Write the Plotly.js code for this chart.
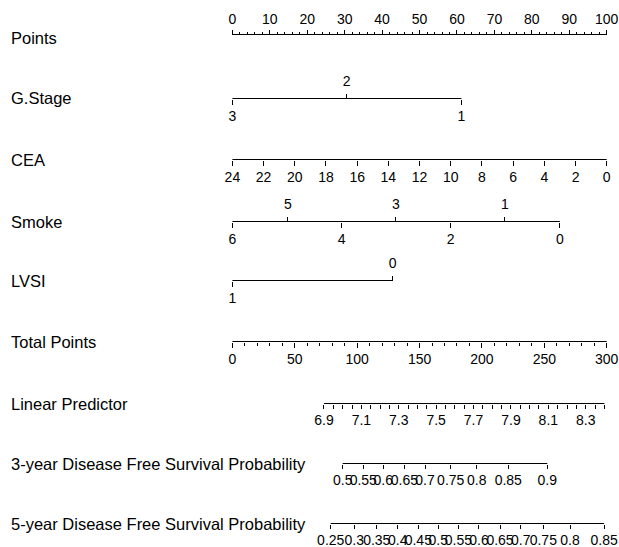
<!DOCTYPE html>
<html><head><meta charset="utf-8">
<script src="https://cdn.plot.ly/plotly-3.0.1.min.js"></script>
<style>html,body{margin:0;padding:0;background:#fff}#chart{width:619px;height:547px}</style>
</head><body><div id="chart"></div>
<script>
// ---------- data ----------
const rowNames = ["Points","G.Stage","CEA","Smoke","LVSI","Total Points","Linear Predictor",
  "3-year Disease Free Survival Probability","5-year Disease Free Survival Probability"];
const pointsTicks = [0,10,20,30,40,50,60,70,80,90,100];
const gstageLevels = ["3","2","1"];
const gstagePoints = [0,30.5,61.2];
const ceaLevels = ["24","22","20","18","16","14","12","10","8","6","4","2","0"];
const ceaPoints = [0,8.33,16.67,25,33.33,41.67,50,58.33,66.67,75,83.33,91.67,100];
const smokeLevels = ["6","5","4","3","2","1","0"];
const smokePoints = [0,14.8,29.2,43.7,58.3,72.8,87.5];
const lvsiLevels = ["1","0"];
const lvsiPoints = [0,42.8];
const totalTicks = [0,50,100,150,200,250,300];
const lpTicks = [6.9,7.1,7.3,7.5,7.7,7.9,8.1,8.3];
const lpTicksTotal = [73.4,102.2,132.9,162.3,192.8,223.0,252.4,283.2];
const lpEnd = 8.4;
const surv3Labels = ["0.5","0.55","0.6","0.65","0.7","0.75","0.8","0.85","0.9"];
const surv3Total = [88.4,104.9,120.9,137.8,154.4,175.0,195.8,221.1,252.4];
const surv5Labels = ["0.25","0.3","0.35","0.4","0.45","0.5","0.55","0.6","0.65","0.7","0.75","0.8","0.85"];
const surv5Total = [78.8,97.7,115.7,132.5,149.0,165.0,181.1,197.6,214.5,231.1,249.2,270.6,297.9];

(function () {
// ---------- layout geometry ----------
const W = 619, H = 547;
const FONT = "Liberation Sans, Arial, Helvetica, sans-serif";
const X0 = 232.4, X1 = 606.7;           // pixel ends of the 0-100 points scale
const pxPerPt = (X1 - X0) / 100;
const pxPerTp = (X1 - X0) / 300;
const dom = [(X0 - pxPerPt) / W, (X1 + pxPerPt) / W];
const ptsRange = [-1, 101];
const totRange = [-3, 303];
const rowY = [34.5, 98.5, 159.5, 221.5, 280.5, 341.5, 403.5, 463.5, 523.5];
const pos = y => 1 - y / H;

const lpSlope = (lpTicks[lpTicks.length-1] - lpTicks[0]) / (lpTicksTotal[lpTicksTotal.length-1] - lpTicksTotal[0]);
const lpPx = lp => X0 + (lpTicksTotal[0] + (lp - lpTicks[0]) / lpSlope) * pxPerTp;
const lpRange = [lpTicks[0] - 0.01, lpEnd + 0.01];
const lpDom = [lpPx(lpRange[0]) / W, lpPx(lpRange[1]) / W];

const layout = {
  width: W, height: H,
  margin: {l:0, r:0, t:0, b:0, pad:0},
  paper_bgcolor: '#fff', plot_bgcolor: 'rgba(0,0,0,0)',
  showlegend: false,
  font: {family: FONT, size: 14, color: '#000'},
  xaxis: {domain: dom, range: ptsRange, autorange: false, visible: false, fixedrange: true},
  yaxis: {domain: [0,1], range: [0,1], autorange: false, visible: false, fixedrange: true},
  annotations: []
};
const traces = [{type:'scatter', x:[0], y:[0.5], mode:'markers', marker:{opacity:0}, hoverinfo:'skip', xaxis:'x', yaxis:'y'}];

let nAx = 1;
function addAxis(yPix, range, opts) {
  nAx++;
  layout['xaxis' + nAx] = Object.assign({
    overlaying: 'x', anchor: 'free', position: pos(yPix),
    domain: dom, range: range, autorange: false,
    showline: false, showgrid: false, zeroline: false,
    ticks: 'outside', tickcolor: '#000', tickwidth: 1, ticklen: 5,
    tickangle: 0, ticklabelstandoff: 0,
    tickfont: {family: FONT, size: 14, color: '#000'},
    tickmode: 'array', fixedrange: true
  }, opts);
  return 'x' + nAx;
}
function addLine(axId, a, b, yPix) {
  traces.push({type:'scatter', x:[a,b], y:[pos(yPix),pos(yPix)], xaxis:axId, yaxis:'y',
    mode:'lines', line:{color:'#000', width:1}, hoverinfo:'skip'});
}
function addGhost(axId, xv, yPix) {
  traces.push({type:'scatter', x:[xv], y:[pos(yPix)], xaxis:axId, yaxis:'y',
    mode:'markers', marker:{opacity:0, size:1}, hoverinfo:'skip'});
}
function split(levels, pts, parity) {
  return {vals: pts.filter((_, i) => i % 2 === parity), text: levels.filter((_, i) => i % 2 === parity)};
}

let ax, lo, hi;
// Points
ax = addAxis(rowY[0], ptsRange, {side:'top', tickvals: pointsTicks, ticktext: pointsTicks.map(String),
  ticklen: 5, ticklabelstandoff: 0,
  minor: {tickmode:'linear', tick0: 0, dtick: 2, ticks:'outside', ticklen: 3, tickcolor:'#000', tickwidth:1}});
addLine(ax, pointsTicks[0], pointsTicks[pointsTicks.length-1], rowY[0]);

// G.Stage
lo = split(gstageLevels, gstagePoints, 0); hi = split(gstageLevels, gstagePoints, 1);
ax = addAxis(rowY[1], ptsRange, {side:'bottom', tickvals: lo.vals, ticktext: lo.text});
addLine(ax, gstagePoints[0], gstagePoints[gstagePoints.length-1], rowY[1]);
ax = addAxis(rowY[1], ptsRange, {side:'top', tickvals: hi.vals, ticktext: hi.text, ticklabelstandoff: 2});
addGhost(ax, hi.vals[0], rowY[1]);

// CEA
ax = addAxis(rowY[2], ptsRange, {side:'bottom', tickvals: ceaPoints, ticktext: ceaLevels});
addLine(ax, ceaPoints[0], ceaPoints[ceaPoints.length-1], rowY[2]);

// Smoke
lo = split(smokeLevels, smokePoints, 0); hi = split(smokeLevels, smokePoints, 1);
ax = addAxis(rowY[3], ptsRange, {side:'bottom', tickvals: lo.vals, ticktext: lo.text});
addLine(ax, smokePoints[0], smokePoints[smokePoints.length-1], rowY[3]);
ax = addAxis(rowY[3], ptsRange, {side:'top', tickvals: hi.vals, ticktext: hi.text, ticklabelstandoff: 2});
addGhost(ax, hi.vals[0], rowY[3]);

// LVSI
lo = split(lvsiLevels, lvsiPoints, 0); hi = split(lvsiLevels, lvsiPoints, 1);
ax = addAxis(rowY[4], ptsRange, {side:'bottom', tickvals: lo.vals, ticktext: lo.text});
addLine(ax, lvsiPoints[0], lvsiPoints[lvsiPoints.length-1], rowY[4]);
ax = addAxis(rowY[4], ptsRange, {side:'top', tickvals: hi.vals, ticktext: hi.text, ticklabelstandoff: 2});
addGhost(ax, hi.vals[0], rowY[4]);

// Total Points
ax = addAxis(rowY[5], totRange, {side:'bottom', tickvals: totalTicks, ticktext: totalTicks.map(String),
  ticklen: 5, minor: {tickmode:'linear', tick0: 0, dtick: 10, ticks:'outside', ticklen: 3, tickcolor:'#000', tickwidth:1}});
addLine(ax, totalTicks[0], totalTicks[totalTicks.length-1], rowY[5]);

// Linear Predictor (own scale, own span)
nAx++;
layout['xaxis' + nAx] = {
  anchor: 'free', position: pos(rowY[6]), domain: lpDom, range: lpRange, autorange: false,
  showline: false, showgrid: false, zeroline: false,
  ticks: 'outside', tickcolor: '#000', tickwidth: 1, ticklen: 4, tickangle: 0, ticklabelstandoff: 0,
  tickfont: {family: FONT, size: 14, color: '#000'},
  tickmode: 'array', tickvals: lpTicks, ticktext: lpTicks.map(v => v.toFixed(1)), fixedrange: true,
  minor: {tickmode:'linear', tick0: lpTicks[0], dtick: 0.05, ticks:'outside', ticklen: 4, tickcolor:'#000', tickwidth:1}
};
addLine('x' + nAx, lpTicks[0], lpEnd, rowY[6]);

// 3-year survival
ax = addAxis(rowY[7], totRange, {side:'bottom', tickvals: surv3Total, ticktext: surv3Labels, ticklen: 4});
addLine(ax, surv3Total[0], surv3Total[surv3Total.length-1], rowY[7]);

// 5-year survival
ax = addAxis(rowY[8], totRange, {side:'bottom', tickvals: surv5Total, ticktext: surv5Labels, ticklen: 4});
addLine(ax, surv5Total[0], surv5Total[surv5Total.length-1], rowY[8]);

// Row labels
rowNames.forEach((name, i) => {
  layout.annotations.push({xref:'paper', yref:'paper', x: 9/W, y: pos(rowY[i]) - (i === 0 ? 3/H : 0),
    xanchor:'left', yanchor:'middle', showarrow:false, text: name,
    font:{family: FONT, size: 16.5, color:'#000'}});
});

Plotly.newPlot('chart', traces, layout, {staticPlot: true, displayModeBar: false});
})();
</script>
</body></html>
